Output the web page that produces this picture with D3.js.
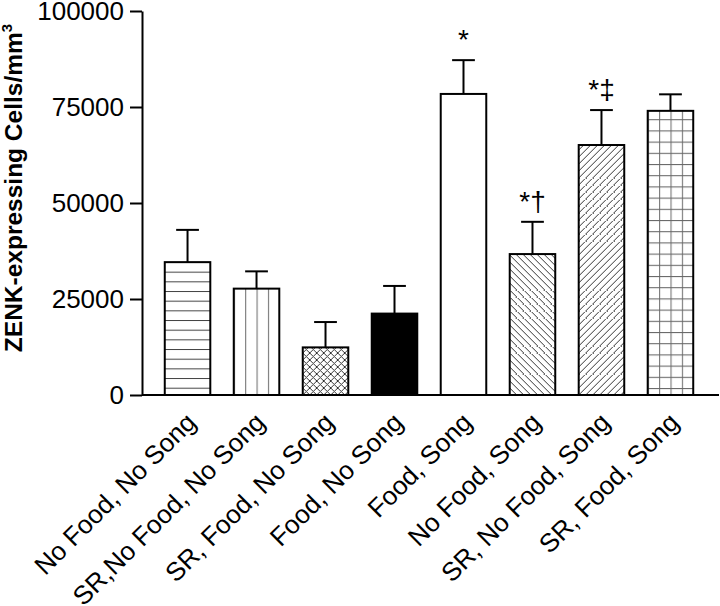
<!DOCTYPE html>
<html>
<head>
<meta charset="utf-8">
<script src="https://cdn.jsdelivr.net/npm/d3@7"></script>
<style>
  html, body { margin: 0; padding: 0; background: #fff; }
  svg { display: block; }
  text { font-family: "Liberation Sans", Arial, Helvetica, sans-serif; fill: #000; }
</style>
</head>
<body>
<svg id="chart" width="720" height="606"></svg>
<script>
// ---- data ----
const categories = [
  "No Food, No Song",
  "SR,No Food, No Song",
  "SR, Food, No Song",
  "Food, No Song",
  "Food, Song",
  "No Food, Song",
  "SR, No Food, Song",
  "SR, Food, Song"
];
const means = [34600, 27700, 12400, 21200, 78400, 36700, 65100, 74000];
const sems  = [8400, 4500, 6600, 7200, 8800, 8400, 9100, 4300];
const marks = ["", "", "", "", "*", "*\u2020", "*\u2021", ""];
const yTicks = [0, 25000, 50000, 75000, 100000];
const yTitle = "ZENK-expressing Cells/mm";
const yTitleSup = "3";

// ---- drawing ----
const patternKinds = ["hlines", "vlines", "cross", "solid", "none", "bdiag", "fdiag", "grid"];

const svg = d3.select("#chart");
const x = d3.scaleBand().domain(categories).range([142, 716])
  .paddingInner(0.34).paddingOuter(0.33);
const y = d3.scaleLinear().domain([0, 100000]).range([395, 11]);

const defs = svg.append("defs");
categories.forEach((c, i) => {
  const kind = patternKinds[i];
  const bx = x(c), bw = x.bandwidth();
  const id = "pat" + i;
  let p;
  if (kind === "hlines") {
    p = defs.append("pattern").attr("id", id).attr("patternUnits", "userSpaceOnUse")
      .attr("x", bx).attr("y", y(0) - 7.3).attr("width", 20).attr("height", 9.67);
    p.append("rect").attr("width", 20).attr("height", 9.67).attr("fill", "#fff");
    p.append("line").attr("x1", 0).attr("x2", 20).attr("y1", 0.5).attr("y2", 0.5)
      .attr("stroke", "#444").attr("stroke-width", 1);
  } else if (kind === "vlines") {
    const s = bw / 4;
    p = defs.append("pattern").attr("id", id).attr("patternUnits", "userSpaceOnUse")
      .attr("x", bx).attr("y", 0).attr("width", s).attr("height", 20);
    p.append("rect").attr("width", s).attr("height", 20).attr("fill", "#fff");
    p.append("line").attr("x1", 0.5).attr("x2", 0.5).attr("y1", 0).attr("y2", 20)
      .attr("stroke", "#777").attr("stroke-width", 1.2);
  } else if (kind === "grid") {
    const s = bw / 4;
    p = defs.append("pattern").attr("id", id).attr("patternUnits", "userSpaceOnUse")
      .attr("x", bx).attr("y", y(0) - 7).attr("width", s).attr("height", 11.2);
    p.append("rect").attr("width", s).attr("height", 11.2).attr("fill", "#fff");
    p.append("line").attr("x1", 0.5).attr("x2", 0.5).attr("y1", 0).attr("y2", 11.2)
      .attr("stroke", "#777").attr("stroke-width", 1.2);
    p.append("line").attr("x1", 0).attr("x2", s).attr("y1", 0.5).attr("y2", 0.5)
      .attr("stroke", "#666").attr("stroke-width", 1.1);
  } else if (kind === "cross") {
    const s = 7;
    p = defs.append("pattern").attr("id", id).attr("patternUnits", "userSpaceOnUse")
      .attr("x", bx).attr("y", y(0)).attr("width", s).attr("height", s);
    p.append("rect").attr("width", s).attr("height", s).attr("fill", "#fff");
    p.append("path").attr("d", `M0,0L${s},${s}M${s},0L0,${s}M-1,${s-1}L1,${s+1}M${s-1},-1L${s+1},1`)
      .attr("stroke", "#333").attr("stroke-width", 1);
  } else if (kind === "bdiag" || kind === "fdiag") {
    const s = 7;
    p = defs.append("pattern").attr("id", id).attr("patternUnits", "userSpaceOnUse")
      .attr("x", bx).attr("y", y(0)).attr("width", s).attr("height", s);
    p.append("rect").attr("width", s).attr("height", s).attr("fill", "#fff");
    const d = kind === "bdiag"
      ? `M0,0L${s},${s}M-1,${s-1}L1,${s+1}M${s-1},-1L${s+1},1`
      : `M0,${s}L${s},0M-1,1L1,-1M${s-1},${s+1}L${s+1},${s-1}`;
    p.append("path").attr("d", d).attr("stroke", "#333").attr("stroke-width", 1);
  }
});

function fillFor(i) {
  const k = patternKinds[i];
  if (k === "solid") return "#000";
  if (k === "none") return "#fff";
  return "url(#pat" + i + ")";
}

// error bars
const eg = svg.append("g").attr("stroke", "#000").attr("stroke-width", 2);
categories.forEach((c, i) => {
  const cx = x(c) + x.bandwidth() / 2;
  const top = y(means[i] + sems[i]);
  eg.append("line").attr("x1", cx).attr("x2", cx).attr("y1", y(means[i])).attr("y2", top);
  eg.append("line").attr("x1", cx - x.bandwidth() / 4).attr("x2", cx + x.bandwidth() / 4)
    .attr("y1", top).attr("y2", top);
});

// bars
svg.append("g").selectAll("rect").data(categories).join("rect")
  .attr("x", d => x(d))
  .attr("y", (d, i) => y(means[i]))
  .attr("width", x.bandwidth())
  .attr("height", (d, i) => y(0) - y(means[i]))
  .attr("fill", (d, i) => fillFor(i))
  .attr("stroke", "#000").attr("stroke-width", 2);

// significance marks
svg.append("g").selectAll("text").data(categories).join("text")
  .attr("x", d => x(d) + x.bandwidth() / 2)
  .attr("y", (d, i) => y(means[i] + sems[i]) - 11)
  .attr("text-anchor", "middle")
  .attr("font-size", 28)
  .text((d, i) => marks[i]);

// y axis
const yAxis = svg.append("g").attr("transform", "translate(142,0)")
  .call(d3.axisLeft(y).tickValues(yTicks).tickSize(12).tickSizeOuter(0).tickPadding(6)
    .tickFormat(d3.format("d")));
yAxis.select(".domain").attr("stroke-width", 2);
yAxis.selectAll(".tick line").attr("stroke-width", 2);
yAxis.selectAll(".tick text").attr("font-size", 26)
  .attr("font-family", "'Liberation Sans', Arial, sans-serif").attr("fill", "#000");

// x axis
const xAxis = svg.append("g").attr("transform", "translate(0,395)")
  .call(d3.axisBottom(x).tickSize(0).tickSizeOuter(0));
xAxis.select(".domain").attr("d", "M142,0H719").attr("stroke-width", 2);
xAxis.selectAll(".tick text")
  .attr("x", 0).attr("y", 0).attr("dy", 0)
  .attr("transform", "translate(10,29) rotate(-45)")
  .attr("text-anchor", "end")
  .attr("font-size", 26)
  .attr("font-family", "'Liberation Sans', Arial, sans-serif").attr("fill", "#000");

// y title
const t = svg.append("text")
  .attr("transform", "translate(22,188) rotate(-90)")
  .attr("text-anchor", "middle")
  .attr("font-size", 24.5)
  .attr("font-weight", "bold")
  .text(yTitle);
t.append("tspan").attr("font-size", 15).attr("dy", -10).text(yTitleSup);
</script>
</body>
</html>
